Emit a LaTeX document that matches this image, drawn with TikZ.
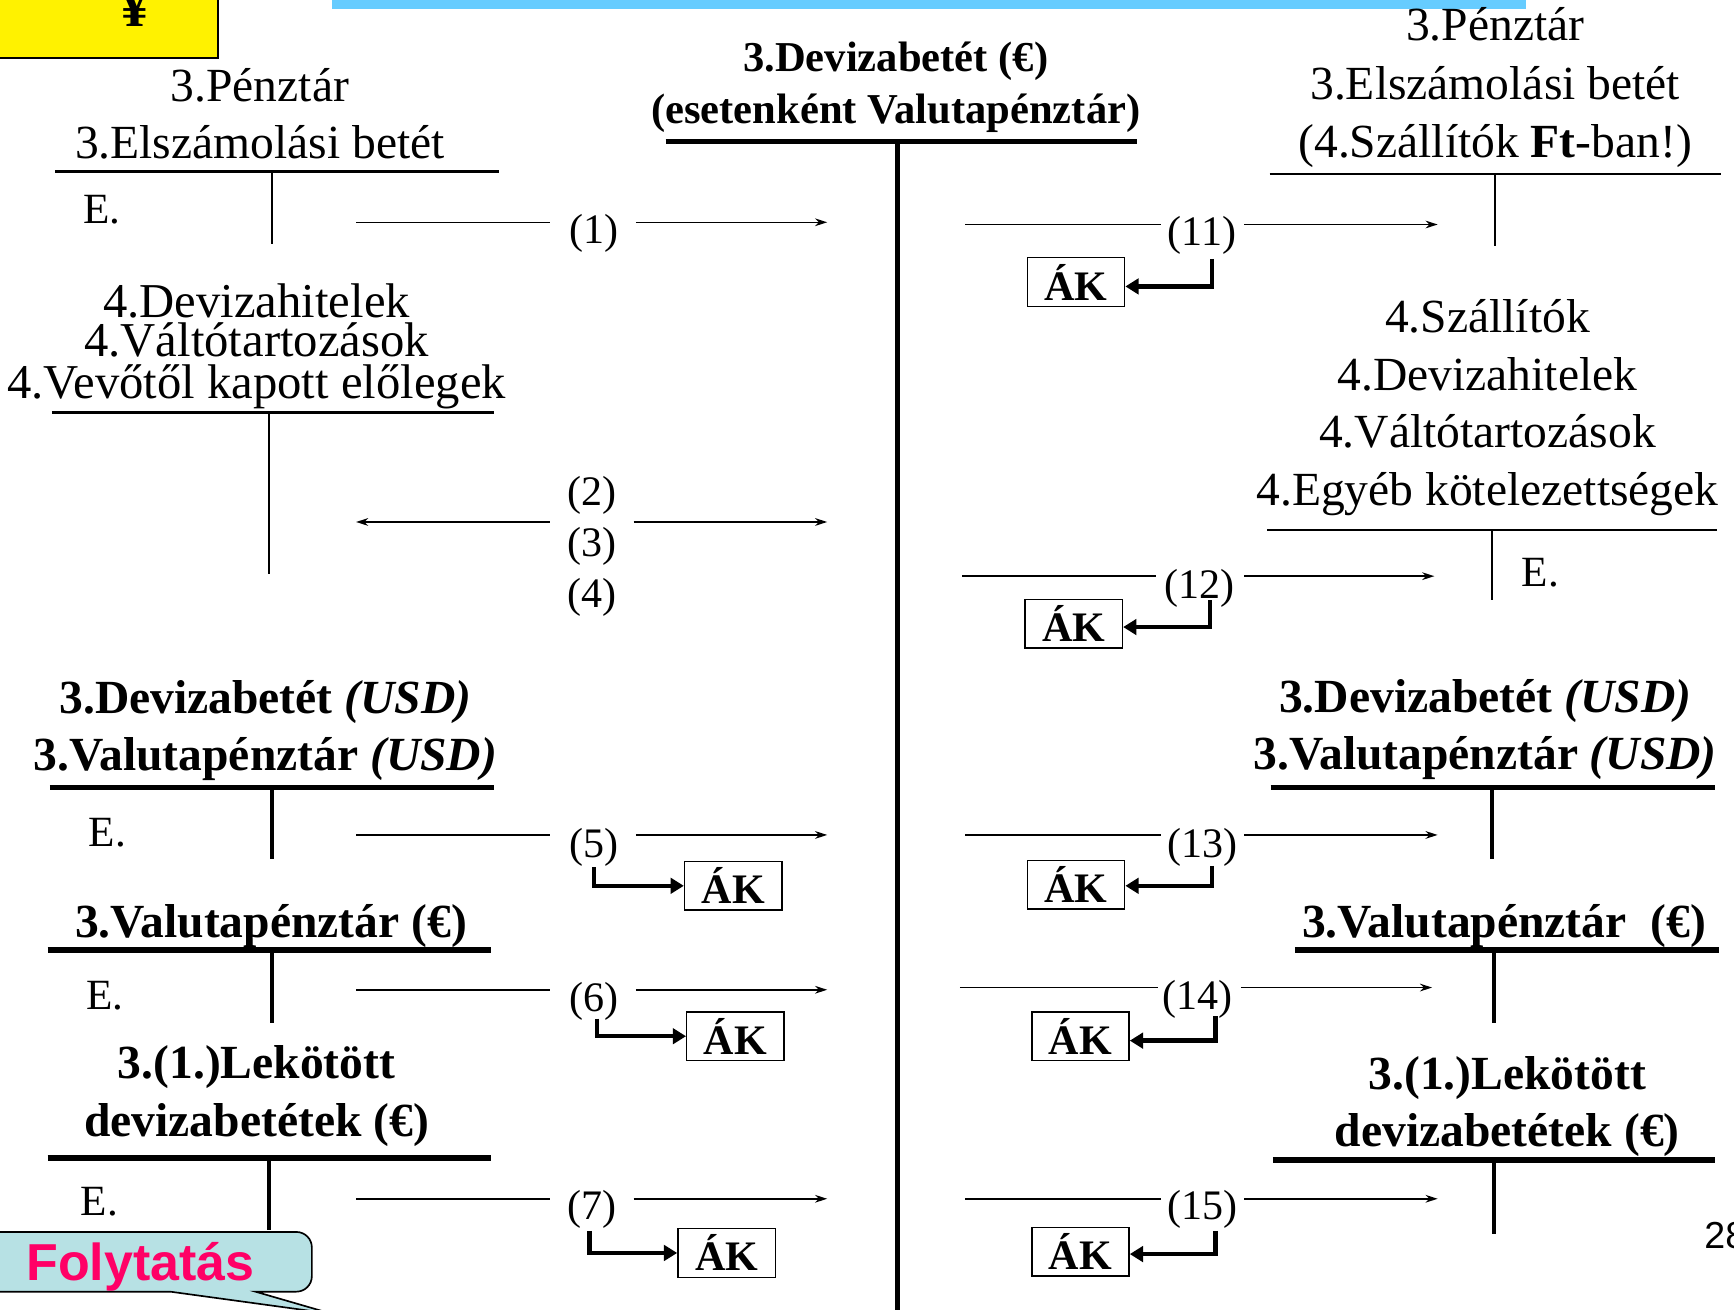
\documentclass[tikz,border=0pt]{standalone}
\usepackage{fontspec}
\setmainfont{Liberation Serif}
\newfontfamily\arialfont{Liberation Sans}
\usetikzlibrary{arrows.meta}
\definecolor{skybar}{RGB}{102,204,255}
\definecolor{calloutfill}{RGB}{183,225,228}
\definecolor{magentatxt}{RGB}{255,0,102}
\begin{document}
\begin{tikzpicture}[x=1pt,y=-1pt,
  txt/.style={anchor=base,inner sep=0pt,font=\fontsize{43}{43}\selectfont},
  stk/.style={anchor=base,inner sep=0pt,font=\fontsize{44}{44}\selectfont},
  btxt/.style={anchor=base,inner sep=0pt,font=\fontsize{43}{43}\selectfont\bfseries},
  ctxt/.style={anchor=base,inner sep=0pt,font=\fontsize{38.5}{38.5}\selectfont\bfseries},
  num/.style={anchor=base,inner sep=0pt,font=\fontsize{38}{38}\selectfont},
  etxt/.style={anchor=base west,inner sep=0pt,font=\fontsize{39}{39}\selectfont},
  akbox/.style={draw,line width=1.3pt,minimum width=88pt,minimum height=44pt,inner sep=0pt,font=\fontsize{38}{38}\selectfont\bfseries},
  thinT/.style={line width=2pt},
  thickT/.style={line width=5pt},
  thickV/.style={line width=4pt},
  flowline/.style={line width=1.4pt},
  flow/.style={line width=1.4pt,-{Stealth[length=11pt,width=7pt]}},
  akarrow/.style={line width=4pt,-{Triangle[length=12pt,width=14pt]}}
]
\useasboundingbox (0,0) rectangle (1568,1184);
\clip (0,0) rectangle (1568,1184);
\fill[white] (0,0) rectangle (1568,1184);

% top decorations
\node[draw,fill=yellow,line width=1.5pt,minimum width=215pt,minimum height=70pt,anchor=south east] (yenbox) at (198,53) {};
\node[anchor=base,inner sep=0pt,font=\fontsize{52}{52}\selectfont\bfseries] (yensign) at (122,24) {¥};
\fill[skybar] (300,-2) rectangle (1380,8);

% ===== centre account
\node[ctxt] (ct1) at (810,65) {3.Devizabetét (€)};
\node[ctxt] (ct2) at (810,112) {(esetenként Valutapénztár)};
\coordinate (cL) at (602,128); \coordinate (cR) at (1028,128);
\coordinate (cTop) at (812,128); \coordinate (cBot) at (812,1195);
\draw[thickT] (cL) -- (cR);
\draw[line width=4.5pt] (cTop) -- (cBot);

% ===== left T1
\node[txt] (l1a) at (235,92) {3.Pénztár};
\node[txt] (l1b) at (235,143) {3.Elszámolási betét};
\coordinate (l1L) at (50,155); \coordinate (l1R) at (451,155);
\coordinate (l1T) at (246,155); \coordinate (l1B) at (246,221);
\draw[thinT] (l1L) -- (l1R); \draw[thinT] (l1T) -- (l1B);
\node[etxt] (l1e) at (75,202) {E.};
% (1)
\coordinate (a1s) at (322,201); \coordinate (a1m) at (497,201);
\node[num] (n1) at (537,220) {(1)};
\coordinate (a1r) at (575,201); \coordinate (a1e) at (748,201);
\draw[flowline] (a1s) -- (a1m); \draw[flow] (a1r) -- (a1e);

% ===== right T1
\node[txt] (r1a) at (1352,37) {3.Pénztár};
\node[txt] (r1b) at (1352,90) {3.Elszámolási betét};
\node[txt] (r1c) at (1352,142) {(4.Szállítók \textbf{Ft}-ban!)};
\coordinate (r1L) at (1148,157); \coordinate (r1R) at (1556,157);
\coordinate (r1T) at (1352,157); \coordinate (r1B) at (1352,222);
\draw[thinT] (r1L) -- (r1R); \draw[thinT] (r1T) -- (r1B);
% (11)
\coordinate (a11s) at (873,203); \coordinate (a11m) at (1050,203);
\node[num] (n11) at (1087,222) {(11)};
\coordinate (a11r) at (1125,203); \coordinate (a11e) at (1300,203);
\draw[flowline] (a11s) -- (a11m); \draw[flow] (a11r) -- (a11e);
\node[akbox] (ak11) at (973,255) {ÁK};
\coordinate (k11) at (1096,234);
\draw[akarrow] (k11) |- ([yshift=-4pt]ak11.east);

% ===== left T2
\node[stk] (l2a) at (232,287) {4.Devizahitelek};
\node[stk] (l2b) at (232,322) {4.Váltótartozások};
\node[stk] (l2c) at (232,360) {4.Vevőtől kapott előlegek};
\coordinate (l2L) at (47,373); \coordinate (l2R) at (447,373);
\coordinate (l2T) at (243,373); \coordinate (l2B) at (243,519);
\draw[thinT] (l2L) -- (l2R); \draw[thinT] (l2T) -- (l2B);
% (2)(3)(4)
\node[num] (n2) at (535,457) {(2)};
\node[num] (n3) at (535,503) {(3)};
\node[num] (n4) at (535,549) {(4)};
\coordinate (a2s) at (497,472); \coordinate (a2e) at (322,472);
\coordinate (a3s) at (573,472); \coordinate (a3e) at (748,472);
\draw[flow] (a2s) -- (a2e); \draw[flow] (a3s) -- (a3e);

% ===== right T2
\node[txt] (r2a) at (1345,301) {4.Szállítók};
\node[txt] (r2b) at (1345,353) {4.Devizahitelek};
\node[txt] (r2c) at (1345,405) {4.Váltótartozások};
\node[txt] (r2d) at (1345,457) {4.Egyéb kötelezettségek};
\coordinate (r2L) at (1146,479); \coordinate (r2R) at (1553,479);
\coordinate (r2T) at (1349,479); \coordinate (r2B) at (1349,543);
\draw[thinT] (r2L) -- (r2R); \draw[thinT] (r2T) -- (r2B);
\node[etxt] (r2e) at (1376,530) {E.};
% (12)
\coordinate (a12s) at (870,521); \coordinate (a12m) at (1045,521);
\node[num] (n12) at (1085,541) {(12)};
\coordinate (a12r) at (1125,521); \coordinate (a12e) at (1297,521);
\draw[flowline] (a12s) -- (a12m); \draw[flow] (a12r) -- (a12e);
\node[akbox] (ak12) at (971,564) {ÁK};
\coordinate (k12) at (1094,543);
\draw[akarrow] (k12) |- ([yshift=-3pt]ak12.east);

% ===== left T3
\node[btxt] (l3a) at (240,645) {3.Devizabetét \textit{(USD)}};
\node[btxt] (l3b) at (240,697) {3.Valutapénztár \textit{(USD)}};
\coordinate (l3L) at (45,712); \coordinate (l3R) at (447,712);
\coordinate (l3T) at (246,712); \coordinate (l3B) at (246,777);
\draw[thickT] (l3L) -- (l3R); \draw[thickV] (l3T) -- (l3B);
\node[etxt] (l3e) at (80,765) {E.};
% (5)
\coordinate (a5s) at (322,755); \coordinate (a5m) at (497,755);
\node[num] (n5) at (537,775) {(5)};
\coordinate (a5r) at (575,755); \coordinate (a5e) at (748,755);
\draw[flowline] (a5s) -- (a5m); \draw[flow] (a5r) -- (a5e);
\node[akbox] (ak5) at (663,801) {ÁK};
\coordinate (k5) at (537,784);
\draw[akarrow] (k5) |- (ak5.west);

% ===== left T4
\node[btxt] (l4a) at (245,848) {3.Valutapénztár (€)};
\coordinate (l4L) at (43,859); \coordinate (l4R) at (444,859);
\coordinate (l4T) at (246,859); \coordinate (l4B) at (246,925);
\draw[thickT] (l4L) -- (l4R); \draw[thickV] (l4T) -- (l4B);
\node[etxt] (l4e) at (78,913) {E.};
% (6)
\coordinate (a6s) at (322,895); \coordinate (a6m) at (497,895);
\node[num] (n6) at (537,915) {(6)};
\coordinate (a6r) at (575,895); \coordinate (a6e) at (748,895);
\draw[flowline] (a6s) -- (a6m); \draw[flow] (a6r) -- (a6e);
\node[akbox] (ak6) at (665,937) {ÁK};
\coordinate (k6) at (540,921);
\draw[akarrow] (k6) |- (ak6.west);

% ===== left T5
\node[btxt] (l5a) at (232,975) {3.(1.)Lekötött};
\node[btxt] (l5b) at (232,1028) {devizabetétek (€)};
\coordinate (l5L) at (43,1047); \coordinate (l5R) at (444,1047);
\coordinate (l5T) at (243,1047); \coordinate (l5B) at (243,1112);
\draw[thickT] (l5L) -- (l5R); \draw[thickV] (l5T) -- (l5B);
\node[etxt] (l5e) at (73,1099) {E.};
% (7)
\coordinate (a7s) at (322,1084); \coordinate (a7m) at (497,1084);
\node[num] (n7) at (535,1103) {(7)};
\coordinate (a7r) at (573,1084); \coordinate (a7e) at (748,1084);
\draw[flowline] (a7s) -- (a7m); \draw[flow] (a7r) -- (a7e);
\node[akbox] (ak7) at (657,1133) {ÁK};
\coordinate (k7) at (533,1113);
\draw[akarrow] (k7) |- (ak7.west);

% ===== right T3
\node[btxt] (r3a) at (1343,644) {3.Devizabetét \textit{(USD)}};
\node[btxt] (r3b) at (1343,696) {3.Valutapénztár \textit{(USD)}};
\coordinate (r3L) at (1149,712); \coordinate (r3R) at (1551,712);
\coordinate (r3T) at (1349,712); \coordinate (r3B) at (1349,777);
\draw[thickT] (r3L) -- (r3R); \draw[thickV] (r3T) -- (r3B);
% (13)
\coordinate (a13s) at (873,755); \coordinate (a13m) at (1050,755);
\node[num] (n13) at (1087,775) {(13)};
\coordinate (a13r) at (1125,755); \coordinate (a13e) at (1300,755);
\draw[flowline] (a13s) -- (a13m); \draw[flow] (a13r) -- (a13e);
\node[akbox] (ak13) at (973,800) {ÁK};
\coordinate (k13) at (1096,783);
\draw[akarrow] (k13) |- ([yshift=-1pt]ak13.east);

% ===== right T4
\node[btxt] (r4a) at (1360,848) {3.Valutapénztár~ (€)};
\coordinate (r4L) at (1171,859); \coordinate (r4R) at (1554,859);
\coordinate (r4T) at (1351,859); \coordinate (r4B) at (1351,925);
\draw[thickT] (r4L) -- (r4R); \draw[thickV] (r4T) -- (r4B);
% (14)
\coordinate (a14s) at (868,893); \coordinate (a14m) at (1047,893);
\node[num] (n14) at (1083,913) {(14)};
\coordinate (a14r) at (1122,893); \coordinate (a14e) at (1295,893);
\draw[flowline] (a14s) -- (a14m); \draw[flow] (a14r) -- (a14e);
\node[akbox] (ak14) at (977,937) {ÁK};
\coordinate (k14) at (1099,919);
\draw[akarrow] (k14) |- ([yshift=-4pt]ak14.east);

% ===== right T5
\node[btxt] (r5a) at (1363,985) {3.(1.)Lekötött};
\node[btxt] (r5b) at (1363,1037) {devizabetétek (€)};
\coordinate (r5L) at (1151,1049); \coordinate (r5R) at (1551,1049);
\coordinate (r5T) at (1351,1049); \coordinate (r5B) at (1351,1116);
\draw[thickT] (r5L) -- (r5R); \draw[thickV] (r5T) -- (r5B);
% (15)
\coordinate (a15s) at (873,1084); \coordinate (a15m) at (1050,1084);
\node[num] (n15) at (1087,1103) {(15)};
\coordinate (a15r) at (1125,1084); \coordinate (a15e) at (1300,1084);
\draw[flowline] (a15s) -- (a15m); \draw[flow] (a15r) -- (a15e);
\node[akbox] (ak15) at (977,1132) {ÁK};
\coordinate (k15) at (1099,1113);
\draw[akarrow] (k15) |- ([yshift=-2pt]ak15.east);

% ===== callout
\draw[fill=calloutfill,line width=1.5pt]
  (-20,1114) [rounded corners=14pt] -- (282,1114) -- (282,1168) [sharp corners] -- (231,1168) -- (300,1188) -- (154,1168) -- (-20,1168) -- cycle;
\node[anchor=base,inner sep=0pt,font=\arialfont\bfseries\fontsize{47}{47}\selectfont,text=magentatxt] (folyt) at (127,1158) {Folytatás};

% page number
\node[anchor=base west,inner sep=0pt,font=\arialfont\fontsize{34}{34}\selectfont] (pg) at (1541,1129) {28};
\end{tikzpicture}
\end{document}
